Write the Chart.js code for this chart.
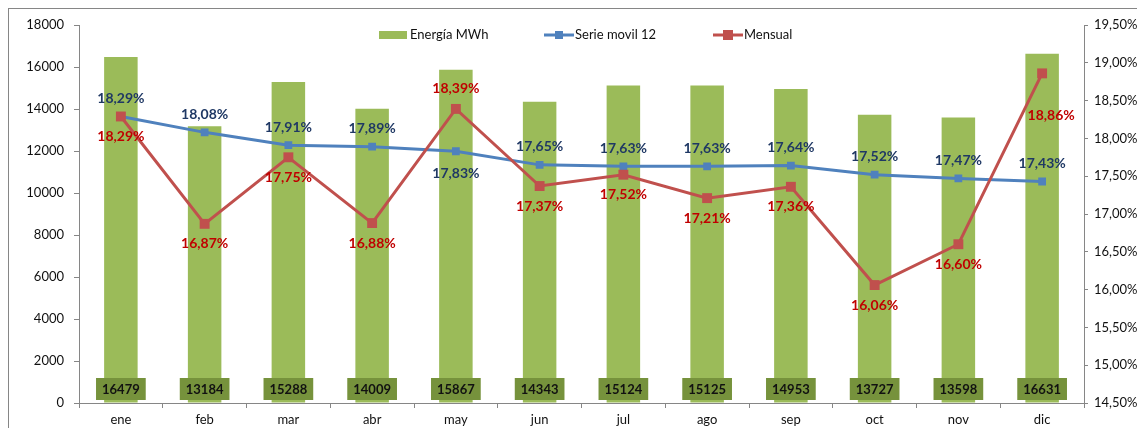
<!DOCTYPE html>
<html>
<head>
<meta charset="utf-8">
<script src="https://cdn.jsdelivr.net/npm/chart.js@4/dist/chart.umd.min.js"></script>
<style>
  html, body { margin: 0; padding: 0; background: #fff; }
  #wrap { position: relative; width: 1137px; height: 428px; }
</style>
</head>
<body>
<div id="wrap"><canvas id="myChart" width="1137" height="428"></canvas></div>
<script>
// data
const months = ["ene", "feb", "mar", "abr", "may", "jun", "jul", "ago", "sep", "oct", "nov", "dic"];
const energia = [16479, 13184, 15288, 14009, 15867, 14343, 15124, 15125, 14953, 13727, 13598, 16631];
const serieMovil = [18.29, 18.08, 17.91, 17.89, 17.83, 17.65, 17.63, 17.63, 17.64, 17.52, 17.47, 17.43];
const mensual = [18.29, 16.87, 17.75, 16.88, 18.39, 17.37, 17.52, 17.21, 17.36, 16.06, 16.60, 18.86];

const FONT = "Lato, 'Open Sans', sans-serif";
const GREEN = "#9bbb59", DARKGREEN = "#76923c";
const BLUE = "#4f81bd", RED = "#c0504d";
const GRAY = "#868686";

const pct = v => v.toFixed(2).replace(".", ",") + "%";

// label placement for the percentage labels (x, y shift from the point)
const blueShift = months.map(m => (m === "may" ? [0, 22] : [0, -18]));
const redShift = months.map(m => (m === "may" ? [0, -20] : m === "dic" ? [9, 42] : [0, 20]));

//draws the frame, the data labels and the legend
const extras = {
  id: "extras",
  beforeDraw(chart) {
    const ctx = chart.ctx;
    ctx.save();
    ctx.strokeStyle = GRAY;
    ctx.lineWidth = 1;
    ctx.strokeRect(8.5, 8.5, 1300, 600);
    ctx.restore();
  },
  afterDatasetsDraw(chart) {
    const ctx = chart.ctx;
    ctx.save();
    ctx.textAlign = "center";
    ctx.textBaseline = "middle";

    // bar value boxes at the bottom
    const bars = chart.getDatasetMeta(0).data;
    ctx.font = "bold 13px " + FONT;
    bars.forEach((b, i) => {
      const txt = String(energia[i]);
      const w = ctx.measureText(txt).width + 12;
      const yc = chart.scales.y.bottom - 14;
      ctx.fillStyle = DARKGREEN;
      ctx.fillRect(b.x - w / 2, yc - 11, w, 22);
      ctx.fillStyle = "#111";
      ctx.fillText(txt, b.x, yc + 1);
    });

    ctx.font = "bold 14px " + FONT;
    chart.getDatasetMeta(1).data.forEach((p, i) => {
      ctx.fillStyle = "#1f3864";
      ctx.fillText(pct(serieMovil[i]), p.x + blueShift[i][0], p.y + blueShift[i][1]);
    });
    chart.getDatasetMeta(2).data.forEach((p, i) => {
      ctx.fillStyle = "#c00000";
      ctx.fillText(pct(mensual[i]), p.x + redShift[i][0], p.y + redShift[i][1]);
    });

    // legend
    ctx.textAlign = "left";
    ctx.font = "13px " + FONT;
    const ly = 35;
    ctx.fillStyle = GREEN;
    ctx.fillRect(379, ly - 4, 28, 8);
    ctx.fillStyle = "#111";
    ctx.fillText(chart.data.datasets[0].label, 410, ly);

    [[544, BLUE, 8, 1, 575], [713, RED, 10, 2, 744]].forEach(([x0, col, sq, di, tx]) => {
      ctx.strokeStyle = col;
      ctx.lineWidth = 3;
      ctx.beginPath();
      ctx.moveTo(x0, ly);
      ctx.lineTo(x0 + 30, ly);
      ctx.stroke();
      ctx.fillStyle = col;
      ctx.fillRect(x0 + 15 - sq / 2, ly - sq / 2, sq, sq);
      ctx.fillStyle = "#111";
      ctx.fillText(chart.data.datasets[di].label, tx, ly);
    });
    ctx.restore();
  },
};

const config = {
  type: "bar",
  data: {
    labels: months,
    datasets: [
      {
        label: "Energía MWh",
        data: energia,
        backgroundColor: GREEN,
        barPercentage: 0.4,
        categoryPercentage: 1,
        yAxisID: "y",
        order: 3,
      },
      {
        type: "line",
        label: "Serie movil 12",
        data: serieMovil,
        borderColor: BLUE,
        backgroundColor: BLUE,
        borderWidth: 3,
        pointStyle: "rect",
        pointRadius: 5.5,
        pointBorderWidth: 0,
        tension: 0,
        yAxisID: "y2",
        order: 2,
      },
      {
        type: "line",
        label: "Mensual",
        data: mensual,
        borderColor: RED,
        backgroundColor: RED,
        borderWidth: 3,
        pointStyle: "rect",
        pointRadius: 7,
        pointBorderWidth: 0,
        tension: 0,
        yAxisID: "y2",
        order: 1,
      },
    ],
  },
  options: {
    responsive: false,
    animation: false,
    layout: { padding: { top: 25, left: 0, right: 0, bottom: 0 } },
    plugins: {
      legend: { display: false },
      tooltip: { enabled: false },
    },
    scales: {
      x: {
        grid: { display: true, drawOnChartArea: false, offset: true, tickLength: 5, color: GRAY },
        border: { color: GRAY },
        ticks: { color: "#111", font: { family: FONT, size: 13 }, padding: 4 },
        afterFit: s => { s.height = 25; },
      },
      y: {
        position: "left",
        min: 0,
        max: 18000,
        grid: { drawOnChartArea: false, tickLength: 5, color: GRAY },
        border: { color: GRAY },
        ticks: { stepSize: 2000, color: "#111", font: { family: FONT, size: 13 }, padding: 10, callback: v => String(v) },
        afterFit: s => { s.width = 79; },
      },
      y2: {
        position: "right",
        min: 14.5,
        max: 19.5,
        grid: { drawOnChartArea: false, tickLength: 4, color: GRAY },
        border: { color: GRAY },
        ticks: { stepSize: 0.5, color: "#111", font: { family: FONT, size: 13 }, padding: 6, callback: v => pct(v) },
        afterFit: s => { s.width = 53; },
      },
    },
  },
  plugins: [extras],
};

const myChart = new Chart(document.getElementById("myChart"), config);
</script>
</body>
</html>
